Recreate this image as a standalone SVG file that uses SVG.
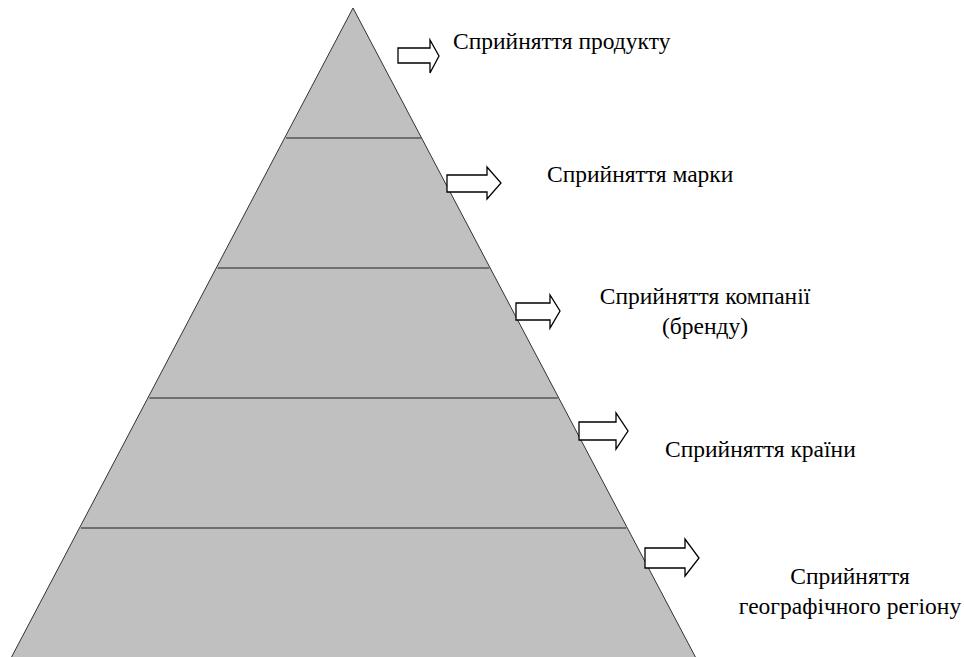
<svg xmlns="http://www.w3.org/2000/svg" width="964" height="657" viewBox="0 0 964 657">
<style>
.lvl{fill:#c0c0c0;stroke:none}
.edge{fill:none;stroke:#333;stroke-width:1}
.sep{stroke:#555;stroke-width:1.5}
.arr{fill:#fff;stroke:#000;stroke-width:1.3;stroke-linejoin:miter}
.lbl{font-family:"Liberation Serif","Times New Roman",serif;font-size:23.5px;fill:#000}
</style>
<rect width="964" height="657" fill="#fff"/>
<g id="pyramid">
<polygon class="lvl" points="353,8 10,660 697,660"/>
<polyline class="edge" points="10,660 353,8 697,660"/>
</g>
<g id="separators">
<line class="sep" x1="286.1" y1="138" x2="421" y2="138"/>
<line class="sep" x1="217.7" y1="268" x2="489.4" y2="268"/>
<line class="sep" x1="149.3" y1="398" x2="557.8" y2="398"/>
<line class="sep" x1="80.9" y1="528" x2="626.3" y2="528"/>
</g>
<g id="connectors">
<polygon class="arr" points="398,48 430,48 430,40 439,56 430,73 430,63 398,63"/>
<polygon class="arr" points="447,175 487,175 487,167 501,183 487,199 487,192 447,192"/>
<polygon class="arr" points="516,303 550,303 550,295 560,311 550,328 550,320 516,320"/>
<polygon class="arr" points="579,422 616,422 616,413 628,431 616,449 616,440 579,440"/>
<polygon class="arr" points="645,548 685,548 685,539 699,558 685,576 685,568 645,568"/>
</g>
<g id="node1"><text class="lbl" x="453" y="49">Сприйняття продукту</text></g>
<g id="node2"><text class="lbl" x="547" y="182">Сприйняття марки</text></g>
<g id="node3"><text class="lbl" x="705" y="304" text-anchor="middle">Сприйняття компанії</text><text class="lbl" x="705" y="334" text-anchor="middle">(бренду)</text></g>
<g id="node4"><text class="lbl" x="665" y="457">Сприйняття країни</text></g>
<g id="node5"><text class="lbl" x="850" y="584" text-anchor="middle">Сприйняття</text><text class="lbl" x="850" y="614" text-anchor="middle">географічного регіону</text></g>
</svg>
